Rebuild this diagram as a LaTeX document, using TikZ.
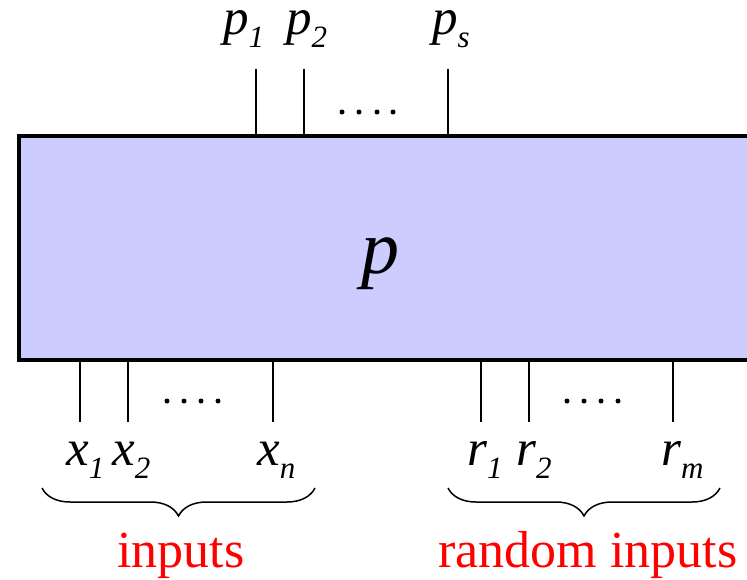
\documentclass[tikz,border=0pt]{standalone}
\usepackage{fontspec}
\setmainfont{Liberation Serif}[ItalicFont={Liberation Serif Italic}]
\newfontfamily\myitfont{Liberation Serif Italic}
\usetikzlibrary{decorations.pathreplacing}
\definecolor{boxblue}{HTML}{CCCCFF}
\definecolor{lblred}{HTML}{FF0000}
\newcommand{\mylbl}[3]{\myitfont\fontsize{51}{51}\selectfont #1\raisebox{-#3pt}{\fontsize{31}{31}\selectfont #2}}
\begin{document}
\begin{tikzpicture}[x=1pt,y=-1pt,
  wire/.style={line width=1.5pt},
  dotmark/.style={circle,fill=black,inner sep=0pt,minimum size=5pt},
  lbl/.style={inner sep=0pt,anchor=base west},
  toplbl/.style={lbl,text height=24pt},
  bracestyle/.style={line width=1.5pt,decorate,decoration={brace,mirror,amplitude=28pt}},
  redtxt/.style={text=lblred,inner sep=0pt,anchor=base,font=\fontsize{52}{52}\selectfont}]
\useasboundingbox (0,0) rectangle (747,579);
\begin{scope}
\clip (0,0) rectangle (747,579);
\node[draw=black,fill=boxblue,line width=4pt,minimum width=780pt,minimum height=223.5pt,inner sep=0pt,anchor=north west] (p) at (17,134) {};
\end{scope}
\node[inner sep=0pt,anchor=base] (plbl) at (380,273) {\myitfont\fontsize{76}{76}\selectfont p};
% top wires
\coordinate (t1) at (256,69); \coordinate (t2) at (304,69); \coordinate (ts) at (448,69);
\draw[wire] (t1) -- (t1 |- p.north);
\draw[wire] (t2) -- (t2 |- p.north);
\draw[wire] (ts) -- (ts |- p.north);
\foreach \i/\x in {1/342,2/359,3/377,4/393} \node[dotmark] (td\i) at (\x,112) {};
\node[toplbl] (lp1) at (223,34) {\mylbl{p}{1}{13}};
\node[toplbl] (lp2) at (286,34) {\mylbl{p}{2}{13}};
\node[toplbl] (lps) at (432,34) {\mylbl{p}{s}{13}};
% bottom wires
\coordinate (b1) at (80,422); \coordinate (b2) at (128,422); \coordinate (bn) at (273,422);
\coordinate (c1) at (481,422); \coordinate (c2) at (529,422); \coordinate (cm) at (673,422);
\foreach \c in {b1,b2,bn,c1,c2,cm} \draw[wire] (\c) -- (\c |- p.south);
\foreach \i/\x in {1/167,2/184,3/201,4/218} \node[dotmark] (bd\i) at (\x,401) {};
\foreach \i/\x in {1/567,2/584,3/601,4/618} \node[dotmark] (cd\i) at (\x,401) {};
\node[lbl] (lx1) at (66,465) {\mylbl{x}{1}{13}};
\node[lbl] (lx2) at (112,465) {\mylbl{x}{2}{13}};
\node[lbl] (lxn) at (257,465) {\mylbl{x}{n}{13}};
\node[lbl] (lr1) at (467,465) {\mylbl{r}{1}{13}};
\node[lbl] (lr2) at (516,465) {\mylbl{r}{2}{13}};
\node[lbl] (lrm) at (661,465) {\mylbl{r}{m}{13}};
% braces
\coordinate (bra) at (42,488); \coordinate (brb) at (315,488);
\coordinate (brc) at (448,488); \coordinate (brd) at (720,488);
\draw[bracestyle] (bra) -- (brb);
\draw[bracestyle] (brc) -- (brd);
\node[redtxt] (inp) at (181,567) {inputs};
\node[redtxt] (rinp) at (588,567) {random inputs};
\end{tikzpicture}
\end{document}
